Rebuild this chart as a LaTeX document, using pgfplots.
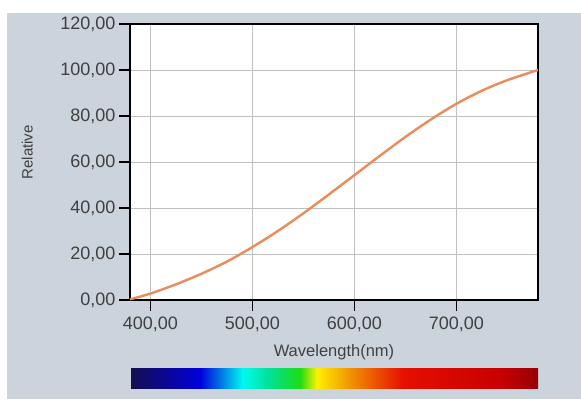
\documentclass[border=0pt]{standalone}
\usepackage{pgfplots}
\pgfplotsset{compat=1.18}
\usepackage{fontspec}
\setmainfont{Liberation Sans}
\definecolor{panel}{RGB}{203,211,220}
\definecolor{curve}{RGB}{234,140,92}
\definecolor{gridc}{RGB}{192,192,192}
\definecolor{sA}{RGB}{20,15,80}
\definecolor{sB}{RGB}{0,0,220}
\definecolor{sC}{RGB}{0,250,240}
\definecolor{sD}{RGB}{0,225,150}
\definecolor{sE}{RGB}{30,220,20}
\definecolor{sF}{RGB}{255,240,0}
\definecolor{sG}{RGB}{240,140,0}
\definecolor{sH}{RGB}{230,15,0}
\definecolor{sI}{RGB}{200,0,0}
\definecolor{sJ}{RGB}{150,0,10}
\pgfdeclarehorizontalshading{spec}{100bp}{color(0bp)=(sA); color(25bp)=(sA); color(33.5bp)=(sB); color(38.75bp)=(sC); color(42bp)=(sD); color(45.75bp)=(sE); color(47.85bp)=(sF); color(52.25bp)=(sG); color(58.4bp)=(sH); color(70.35bp)=(sI); color(75bp)=(sJ); color(100bp)=(sJ)}
\begin{document}
\begin{tikzpicture}[x=1pt,y=1pt]
\fill[white] (0,0) rectangle (581,399);
\fill[panel] (7,0) rectangle (581,386);
\begin{axis}[at={(130pt,99pt)}, anchor=south west, scale only axis,
  width=408pt, height=276pt,
  xmin=380, xmax=780, ymin=0, ymax=120,
  xtick={400,500,600,700}, ytick={0,20,...,120},
  grid=major, grid style={draw=gridc, line width=0.9pt},
  axis line style={black, line width=1.1pt},
  tick align=outside, tick pos=left, major tick length=11pt,
  tick style={black, line width=1.1pt},
  axis background/.style={fill=white},
  /pgf/number format/.cd, fixed, fixed zerofill, precision=2, use comma, 1000 sep={}, assume math mode=true,
  /pgfplots/.cd,
  tick label style={font=\fontsize{18}{18}\selectfont, text=black!75},
  xticklabel style={yshift=-2pt},
  xlabel={Wavelength(nm)},
  ylabel={Relative},
  xlabel style={font=\fontsize{16.5}{16.5}\selectfont, text=black!75, at={(axis description cs:0.5,-0.188)}, anchor=center},
  ylabel style={font=\fontsize{15}{15}\selectfont, text=black!75, at={(axis description cs:-0.252,0.535)}, anchor=center},
]
\addplot[curve, line width=2.4pt, smooth] coordinates {
(380,0.3) (400,2.8) (425,6.8) (450,11.4) (475,16.7) (500,23.0) (525,30.0) (550,37.7) (575,45.9) (600,54.3) (625,62.7) (650,70.9) (675,78.5) (700,85.3) (725,91.0) (750,95.6) (780,100)
};
\end{axis}
\begin{axis}[at={(131pt,11pt)}, anchor=south west, scale only axis,
  width=407pt, height=19pt, hide axis, xmin=0, xmax=1, ymin=0, ymax=1]
\addplot[draw=none] coordinates {(0,0) (1,1)};
\shade[shading=spec] (axis cs:0,0) rectangle (axis cs:1,1);
\end{axis}
\end{tikzpicture}
\end{document}
